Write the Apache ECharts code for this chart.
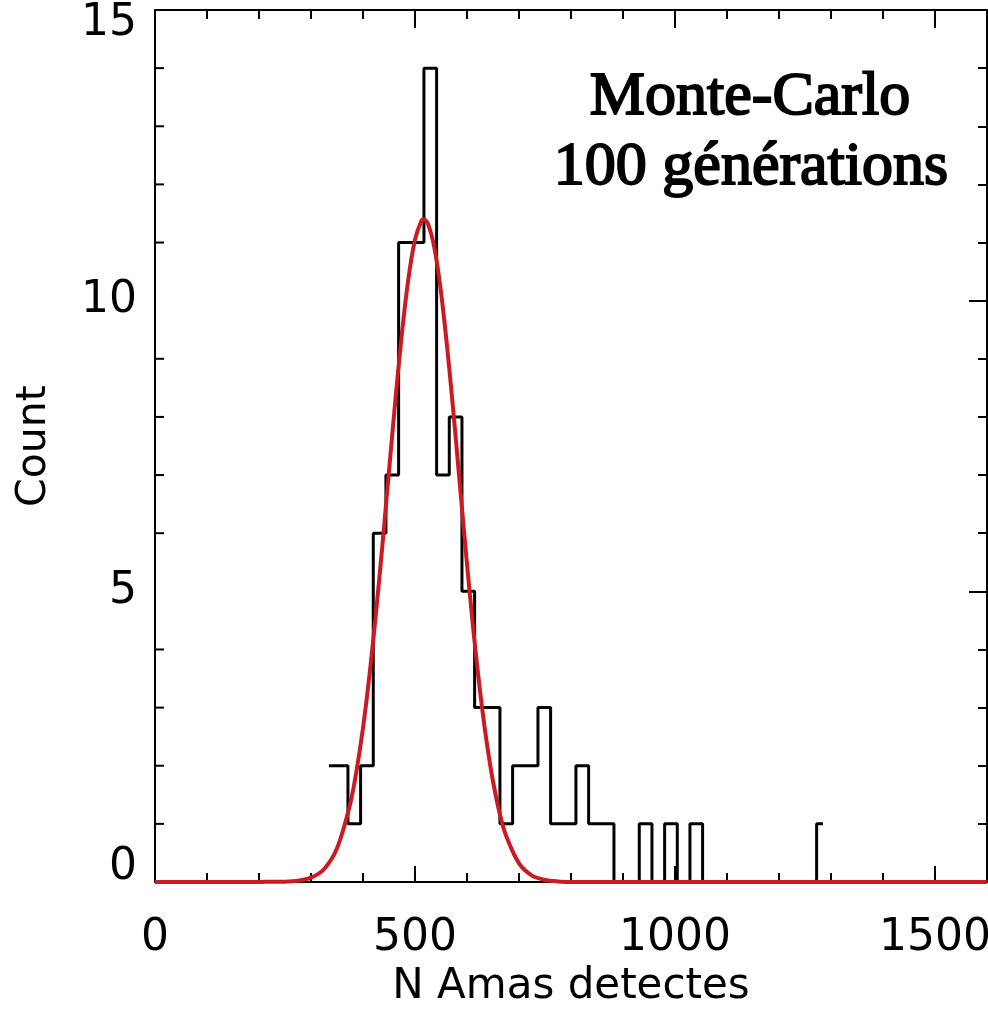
<!DOCTYPE html>
<html lang="fr">
<head>
<meta charset="utf-8">
<title>Monte-Carlo</title>
<script src="https://cdn.jsdelivr.net/npm/echarts@6/dist/echarts.min.js"></script>
<style>
  html, body { margin: 0; padding: 0; background: #fff; }
  #main { width: 988px; height: 1009px; }
</style>
</head>
<body>
<div id="main"></div>
<script>
// histogram (IDL psym=10 style: steps between bin centres)
var binCenters = [334.5, 358.9, 383.2, 407.6, 431.9, 456.3, 480.7, 505.0, 529.4, 553.7,
                  578.1, 602.5, 626.8, 651.2, 675.5, 699.9, 724.3, 748.6, 773.0, 797.3,
                  821.7, 846.1, 870.4, 894.8, 919.1, 943.5, 967.9, 992.2, 1016.6, 1040.9,
                  1065.3, 1089.7, 1114.0, 1138.4, 1162.7, 1187.1, 1211.5, 1235.8, 1260.2, 1284.5];
var binCounts = [2, 2, 1, 2, 6, 7, 11, 11, 14, 7,
                 8, 5, 3, 3, 1, 2, 2, 3, 1, 1,
                 2, 1, 1, 0, 0, 1, 0, 1, 0, 1,
                 0, 0, 0, 0, 0, 0, 0, 0, 0, 1];

// gaussian fit
var fitX = [0, 150, 200, 250, 275, 300, 325, 350, 375, 387.5,
            400, 412.5, 425, 437.5, 450, 462.5, 475, 487.5, 500, 512.5,
            517, 525, 537.5, 550, 562.5, 575, 587.5, 600, 612.5, 625,
            637.5, 650, 662.5, 675, 700, 725, 750, 775, 800, 850, 1600];
var fitY = [0, 0, 0.002, 0.006, 0.022, 0.075, 0.22, 0.58, 1.33, 1.91,
            2.65, 3.56, 4.63, 5.81, 7.07, 8.31, 9.45, 10.39, 11.05, 11.38,
            11.4, 11.32, 10.90, 10.15, 9.14, 7.97, 6.71, 5.47, 4.31, 3.29,
            2.43, 1.73, 1.19, 0.80, 0.32, 0.11, 0.035, 0.01, 0.002, 0, 0];

var xMin = 0, xMax = 1600, xMajor = 500, xMinor = 100;
var yMin = 0, yMax = 15, yMajor = 5;
// left-frame tick positions
var yMajorTicks = [5, 10];
var yMinorTicks = [1, 2, 3, 4, 6, 7, 8, 9, 11, 12, 13, 14];
var xTitle = 'N Amas detectes';
var yTitle = 'Count';
var noteLines = ['Monte-Carlo', '100 générations'];

var tickFont = 'DejaVu Sans';
var black = '#000';
var red = '#cc1a22';

function xAxisDef(pos, interval, len, withLabels, withLine) {
    return {
        type: 'value', position: pos, min: xMin, max: xMax, interval: interval,
        axisLine: { show: withLine, onZero: false, lineStyle: { color: black, width: 2 } },
        axisTick: { show: true, inside: true, length: len, lineStyle: { color: black, width: 2 } },
        splitLine: { show: false },
        axisLabel: withLabels ? {
            show: true, margin: 35, color: black, fontFamily: tickFont, fontSize: 44,
            showMaxLabel: false,
            formatter: function (v) { return String(v); }
        } : { show: false },
        name: withLabels ? xTitle : '',
        nameLocation: 'middle', nameGap: 74,
        nameTextStyle: { color: black, fontFamily: tickFont, fontSize: 42 }
    };
}

var yLeft = {
    type: 'value', position: 'left', min: yMin, max: yMax, interval: yMajor,
    axisLine: { show: true, onZero: false, lineStyle: { color: black, width: 2 } },
    axisTick: { show: false },
    minorTick: { show: false },
    splitLine: { show: false },
    axisLabel: {
        show: true, margin: 18, color: black, fontFamily: tickFont, fontSize: 44,
        formatter: function (v) {
            if (v === yMin) return '{lo|' + v + '}';
            if (v === yMax) return '{hi|' + v + '}';
            return '' + v;
        },
        rich: {
            lo: { fontFamily: tickFont, fontSize: 44, color: black, padding: [0, 0, 28, 0] },
            hi: { fontFamily: tickFont, fontSize: 44, color: black, padding: [28, 0, 0, 0] }
        }
    },
    name: yTitle,
    nameLocation: 'middle', nameGap: 100, nameRotate: 90,
    nameTextStyle: { color: black, fontFamily: tickFont, fontSize: 41 }
};

var yRight = {
    type: 'value', position: 'right', min: yMin, max: yMax, interval: yMajor,
    axisLine: { show: true, onZero: false, lineStyle: { color: black, width: 2 } },
    axisTick: { show: true, inside: true, length: 18, lineStyle: { color: black, width: 2 } },
    minorTick: { show: true, splitNumber: 5, length: 9, lineStyle: { color: black, width: 2 } },
    splitLine: { show: false },
    axisLabel: { show: false }
};

var chart = echarts.init(document.getElementById('main'), null, { renderer: 'canvas' });

chart.setOption({
    animation: false,
    backgroundColor: '#fff',
    grid: { left: 155, top: 10, right: 1, bottom: 127, containLabel: false, outerBoundsMode: 'none' },
    xAxis: [
        xAxisDef('bottom', xMajor, 16, true, true),
        xAxisDef('bottom', xMinor, 9, false, false),
        xAxisDef('top', xMajor, 18, false, true),
        xAxisDef('top', xMinor, 9, false, false)
    ],
    yAxis: [yLeft, yRight],
    series: [
        {
            name: 'histogram',
            type: 'line',
            step: 'middle',
            xAxisIndex: 0, yAxisIndex: 0,
            symbol: 'none',
            lineStyle: { color: black, width: 3 },
            data: binCenters.map(function (c, i) { return [c, binCounts[i]]; }),
            z: 2
        },
        {
            name: 'fit',
            type: 'line',
            smooth: 0.3,
            xAxisIndex: 0, yAxisIndex: 0,
            symbol: 'none',
            lineStyle: { color: red, width: 4 },
            data: fitX.map(function (x, i) { return [x, fitY[i]]; }),
            z: 3
        }
    ],
    graphic: [
        {
            type: 'text', x: 750, y: 98, z: 10,
            style: {
                text: noteLines[0], fill: black,
                font: '62px "Liberation Serif"',
                textAlign: 'center', textVerticalAlign: 'middle'
            }
        },
        {
            type: 'text', x: 751, y: 168, z: 10,
            style: {
                text: noteLines[1], fill: black,
                font: '62px "Liberation Serif"',
                textAlign: 'center', textVerticalAlign: 'middle'
            }
        }
    ]
});

// inward ticks on the left frame, placed through the chart's own scales
function tickLine(v, len) {
    var p = chart.convertToPixel({ xAxisIndex: 0, yAxisIndex: 0 }, [xMin, v]);
    return {
        type: 'line', z: 100, silent: true,
        shape: { x1: p[0], y1: p[1], x2: p[0] + len, y2: p[1] },
        style: { stroke: black, lineWidth: 2 }
    };
}
var tickMarks = yMajorTicks.map(function (v) { return tickLine(v, 18); })
    .concat(yMinorTicks.map(function (v) { return tickLine(v, 9); }));
chart.setOption({ graphic: tickMarks });
</script>
</body>
</html>
